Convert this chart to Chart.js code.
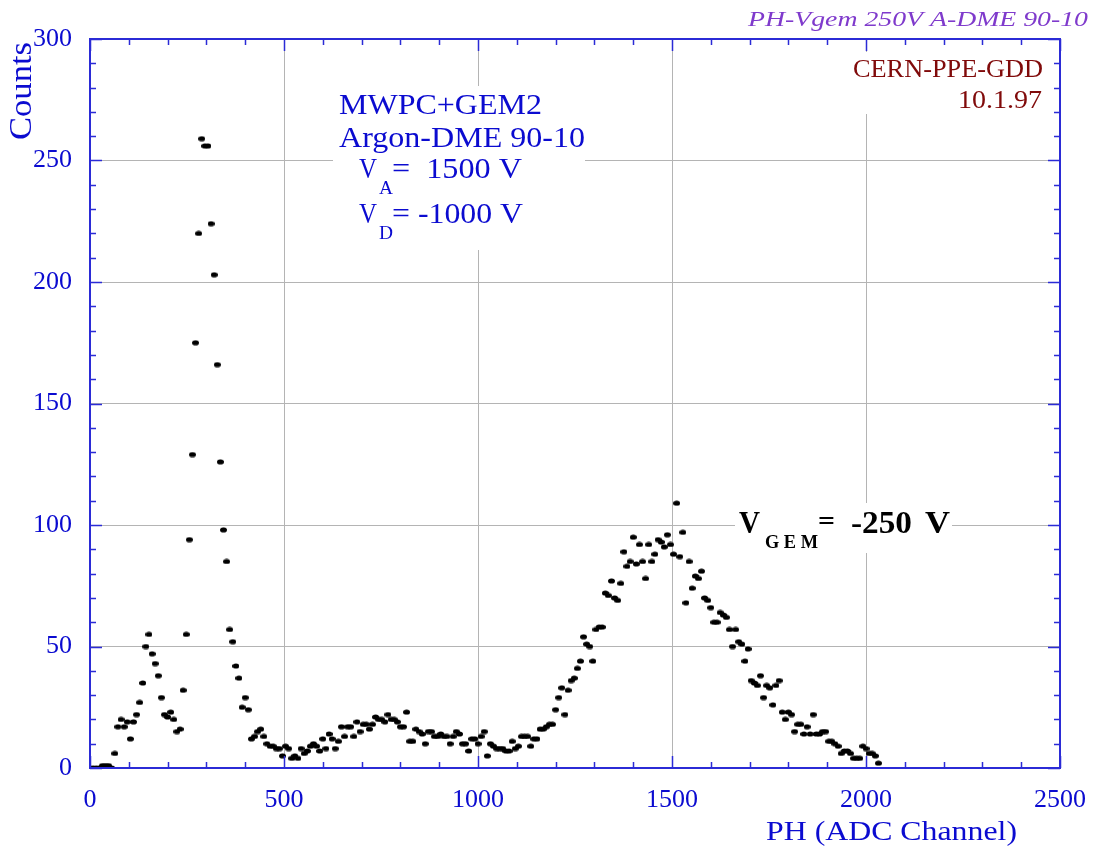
<!DOCTYPE html>
<html><head><meta charset="utf-8">
<script src="https://cdn.jsdelivr.net/npm/chart.js@4.4.1/dist/chart.umd.min.js"></script>
<style>html,body{margin:0;padding:0;background:#fff}canvas{display:block}</style>
</head><body>
<canvas id="c" width="1103" height="854"></canvas>
<script>
// ---- data ----
const binWidth = 8; // ADC channels per histogram bin
const counts = [
  0,0,0,0,1,1,1,0,6,17, 20,17,19,12,19,22,27,35,50,55,
  47,43,38,29,22,21,23,20,15,16, 32,55,94,129,175,220,259,256,256,224,
  203,166,126,98,85,57,52,42,37,25, 29,24,12,13,15,16,13,10,9,9,
  8,8,5,9,8,4,5,4,8,6, 7,9,10,9,7,12,8,14,12,8,
  11,17,13,17,17,13,19,15,18,18, 16,18,21,20,20,19,22,20,20,19,
  17,17,23,11,11,16,15,14,10,15, 15,13,13,14,13,13,10,13,15,14,
  10,10,7,12,12,10,13,15,5,10, 9,8,8,8,7,7,11,8,9,13,
  13,13,9,12,12,16,16,17,18,18, 24,29,33,22,32,36,37,41,44,54,
  51,50,44,57,58,58,72,71,77,70, 69,76,89,83,85,95,84,92,85,78,
  92,85,88,94,93,91,96,92,88,109, 87,97,68,85,74,79,78,81,70,69,
  66,60,60,64,63,62,57,50,57,52, 51,44,49,36,35,34,38,29,34,33,
  26,34,36,23,20,23,22,15,18,18, 14,17,14,22,14,14,15,15,11,11,
  10,9,6,7,7,6,4,4,4,9, 8,6,6,5,2
];
const xTickValues = [0, 500, 1000, 1500, 2000, 2500];
const yTickValues = [0, 50, 100, 150, 200, 250, 300];
const xMinorStep = 100;
const yMinorStep = 10;

// ---- styling ----
const SERIF = '"Liberation Serif", "Times New Roman", serif';
const AXIS_BLUE = '#2b2bd6';
const LABEL_BLUE = '#0b0bd0';
const GRID = '#b4b4b4';

const dot = document.createElement('canvas');
dot.width = 7; dot.height = 6;
(function(){ const d = dot.getContext('2d'); d.fillStyle = '#000'; d.beginPath(); d.ellipse(3.5, 3, 3.5, 2.6, 0, 0, Math.PI*2); d.fill(); })();

function stretchText(ctx, txt, x0, x1, base, font, color){
  ctx.save();
  ctx.font = font; ctx.fillStyle = color; ctx.textBaseline = 'alphabetic'; ctx.textAlign = 'left';
  const w = ctx.measureText(txt).width;
  ctx.translate(x0, base); ctx.scale((x1 - x0) / w, 1);
  ctx.fillText(txt, 0, 0);
  ctx.restore();
}

const decor = {
  id: 'decor',
  beforeDatasetsDraw(chart){
    const ctx = chart.ctx;
    ctx.save(); ctx.fillStyle = '#fff';
    ctx.fillRect(333, 86, 252, 164);   // MWPC block
    ctx.fillRect(735, 503, 217, 50);   // V_GEM
    ctx.fillRect(846, 52, 213, 62);    // CERN label
    ctx.restore();
  },
  afterDatasetsDraw(chart){
    const ctx = chart.ctx;
    const {left, right, top, bottom} = chart.chartArea;
    const xs = chart.scales.x, ys = chart.scales.y;
    ctx.save();
    ctx.strokeStyle = AXIS_BLUE; ctx.lineWidth = 1.5;
    ctx.beginPath();
    for (let v = 0; v <= 2500; v += xMinorStep){
      const p = Math.round(xs.getPixelForValue(v)) + 0.5;
      const L = (v % 500 === 0) ? 12 : 6;
      ctx.moveTo(p, bottom); ctx.lineTo(p, bottom - L);
      ctx.moveTo(p, top); ctx.lineTo(p, top + L);
    }
    for (let v = 0; v <= 300; v += yMinorStep){
      const p = Math.round(ys.getPixelForValue(v)) + 0.5;
      const L = (v % 50 === 0) ? 12 : 6;
      ctx.moveTo(left, p); ctx.lineTo(left + L, p);
      ctx.moveTo(right, p); ctx.lineTo(right - L, p);
    }
    ctx.stroke();
    ctx.lineWidth = 2;
    ctx.strokeRect(left, top, right - left, bottom - top);
    ctx.restore();

    // texts
    stretchText(ctx, 'PH-Vgem 250V A-DME 90-10', 748, 1088, 26, 'italic 22px ' + SERIF, '#7f3acc');
    stretchText(ctx, 'CERN-PPE-GDD', 853, 1043, 77, '26px ' + SERIF, '#800a0a');
    stretchText(ctx, '10.1.97', 958, 1042, 108, '25px ' + SERIF, '#800a0a');

    stretchText(ctx, 'MWPC+GEM2', 339, 542, 114, '30px ' + SERIF, LABEL_BLUE);
    stretchText(ctx, 'Argon-DME 90-10', 339, 585, 147, '30px ' + SERIF, LABEL_BLUE);
    stretchText(ctx, 'V', 359, 377, 178, '30px ' + SERIF, LABEL_BLUE);
    stretchText(ctx, 'A', 379, 393, 194, '18px ' + SERIF, LABEL_BLUE);
    stretchText(ctx, '=  1500 V', 392, 522, 178, '30px ' + SERIF, LABEL_BLUE);
    stretchText(ctx, 'V', 359, 377, 223, '30px ' + SERIF, LABEL_BLUE);
    stretchText(ctx, 'D', 379, 393, 239, '18px ' + SERIF, LABEL_BLUE);
    stretchText(ctx, '= -1000 V', 392, 523, 223, '30px ' + SERIF, LABEL_BLUE);

    stretchText(ctx, 'V', 739, 760, 533, 'bold 31px ' + SERIF, '#000');
    stretchText(ctx, 'G E M', 765, 818, 548, 'bold 18px ' + SERIF, '#000');
    stretchText(ctx, '=', 818, 835, 530, 'bold 28px ' + SERIF, '#000');
    stretchText(ctx, '-250', 851, 912, 533, 'bold 31px ' + SERIF, '#000');
    stretchText(ctx, 'V', 925, 950, 533, 'bold 31px ' + SERIF, '#000');

    stretchText(ctx, 'PH (ADC Channel)', 766, 1017, 840, '28px ' + SERIF, LABEL_BLUE);

    ctx.save();
    ctx.translate(31, 140); ctx.rotate(-Math.PI/2);
    stretchText(ctx, 'Counts', 0, 98, 0, '32px ' + SERIF, LABEL_BLUE);
    ctx.restore();
  }
};

const points = counts.map((v, i) => ({x: i * binWidth, y: v}));

new Chart(document.getElementById('c'), {
  type: 'scatter',
  data: { datasets: [{ data: points, pointStyle: dot, pointRadius: 3.5, borderWidth: 0, backgroundColor: '#000', showLine: false }] },
  options: {
    responsive: false, animation: false, events: [],
    layout: { padding: { top: 39, right: 42, left: 0, bottom: 0 } },
    plugins: { legend: { display: false }, tooltip: { enabled: false } },
    scales: {
      x: {
        type: 'linear', min: 0, max: 2500,
        afterBuildTicks: s => { s.ticks = xTickValues.map(v => ({value: v})); },
        afterFit: s => { s.height = 86; },
        ticks: { color: LABEL_BLUE, font: { family: SERIF, size: 26 }, padding: 17, maxRotation: 0, autoSkip: false, callback: v => String(v) },
        grid: { color: GRID, lineWidth: 1, drawTicks: false },
        border: { display: false }
      },
      y: {
        type: 'linear', min: 0, max: 300,
        afterBuildTicks: s => { s.ticks = yTickValues.map(v => ({value: v})); },
        afterFit: s => { s.width = 90; },
        ticks: { color: LABEL_BLUE, font: { family: SERIF, size: 26 }, padding: 18, autoSkip: false, callback: v => String(v) },
        grid: { color: GRID, lineWidth: 1, drawTicks: false },
        border: { display: false }
      }
    }
  },
  plugins: [decor]
});
</script>
</body></html>
